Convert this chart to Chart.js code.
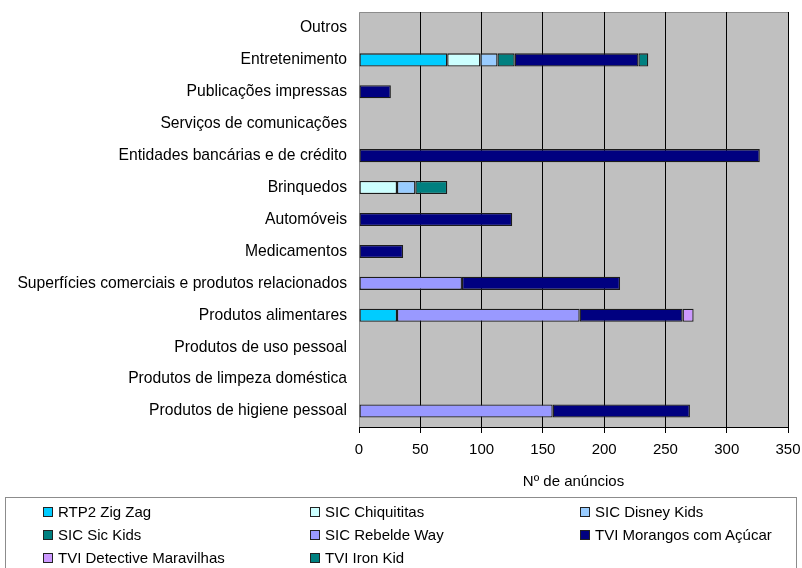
<!DOCTYPE html>
<html>
<head>
<meta charset="utf-8">
<script src="https://cdn.jsdelivr.net/npm/chart.js@4/dist/chart.umd.min.js"></script>
<style>
    html, body { margin: 0; padding: 0; background: #fff; }
    body { width: 802px; height: 568px; position: relative; overflow: hidden; font-family: "Liberation Sans", Arial, sans-serif; }
    #wrap { position: absolute; left: 0; top: 0; width: 802px; height: 498px; }
    #legend {
        position: absolute; left: 5px; top: 497px; width: 792px; height: 90px;
        border: 1px solid #8c8c8c; box-sizing: border-box;
        display: grid; grid-template-columns: 267px 270px auto; grid-auto-rows: 23px;
        padding: 2px 0 0 37px;
        font-size: 15px; line-height: 23px; color: #000;
    }
    #legend .item { display: flex; align-items: center; height: 23px; white-space: nowrap; }
    #legend .box { width: 8px; height: 8px; border: 1px solid #222; margin-right: 5px; flex: none; }
</style>
</head>
<body>
<div id="wrap"><canvas id="chart" width="802" height="498"></canvas></div>
<div id="legend"></div>
<script>
const categories = [
    "Outros",
    "Entretenimento",
    "Publicações impressas",
    "Serviços de comunicações",
    "Entidades bancárias e de crédito",
    "Brinquedos",
    "Automóveis",
    "Medicamentos",
    "Superfícies comerciais e produtos relacionados",
    "Produtos alimentares",
    "Produtos de uso pessoal",
    "Produtos de limpeza doméstica",
    "Produtos de higiene pessoal"
];

// one value per category, same order as above (null = no bar)
const rtp2ZigZag        = [null, 72, null, null, null, null, null, null, null, 31, null, null, null];
const sicChiquititas    = [null, 27, null, null, null, 31, null, null, null, null, null, null, null];
const sicDisneyKids     = [null, 14, null, null, null, 15, null, null, null, null, null, null, null];
const sicSicKids        = [null, 14, null, null, null, 26, null, null, null, null, null, null, null];
const sicRebeldeWay     = [null, null, null, null, null, null, null, null, 84, 149, null, null, 158];
const tviMorangos       = [null, 101, 26, null, 327, null, 125, 36, 129, 84, null, null, 112];
const tviDetective      = [null, null, null, null, null, null, null, null, null, 9, null, null, null];
const tviIronKid        = [null, 8, null, null, null, null, null, null, null, null, null, null, null];

const xTicks = [0, 50, 100, 150, 200, 250, 300, 350];

const series = [
    { label: "RTP2 Zig Zag", data: rtp2ZigZag, color: "#00ccff" },
    { label: "SIC Chiquititas", data: sicChiquititas, color: "#ccffff" },
    { label: "SIC Disney Kids", data: sicDisneyKids, color: "#99ccff" },
    { label: "SIC Sic Kids", data: sicSicKids, color: "#008080" },
    { label: "SIC Rebelde Way", data: sicRebeldeWay, color: "#9999ff" },
    { label: "TVI Morangos com Açúcar", data: tviMorangos, color: "#000080" },
    { label: "TVI Detective Maravilhas", data: tviDetective, color: "#cc99ff" },
    { label: "TVI Iron Kid", data: tviIronKid, color: "#008080" }
];

const FONT = "'Liberation Sans', Arial, sans-serif";

const plotBackground = {
    id: "plotBackground",
    beforeDraw(chart) {
        const { ctx, chartArea: a } = chart;
        ctx.save();
        ctx.fillStyle = "#c0c0c0";
        ctx.fillRect(a.left, a.top, a.right - a.left, a.bottom - a.top);
        ctx.strokeStyle = "#8c8c8c";
        ctx.lineWidth = 1;
        ctx.beginPath();
        ctx.moveTo(a.left + 0.5, a.bottom);
        ctx.lineTo(a.left + 0.5, a.top + 0.5);
        ctx.lineTo(a.right, a.top + 0.5);
        ctx.stroke();
        ctx.restore();
    }
};

const chart = new Chart(document.getElementById("chart"), {
    type: "bar",
    data: {
        labels: categories,
        datasets: series.map(s => ({
            label: s.label,
            data: s.data,
            backgroundColor: s.color,
            borderColor: "#1c1c1c",
            borderWidth: 1.3,
            borderSkipped: false,
            categoryPercentage: 1,
            barPercentage: 0.41
        }))
    },
    options: {
        indexAxis: "y",
        responsive: false,
        animation: false,
        devicePixelRatio: 1,
        layout: { padding: { left: 0, right: 14, top: 12, bottom: 0 } },
        plugins: {
            legend: { display: false },
            tooltip: { enabled: false }
        },
        scales: {
            x: {
                stacked: true,
                min: 0,
                max: 350,
                afterBuildTicks: scale => { scale.ticks = xTicks.map(v => ({ value: v })); },
                afterFit: scale => {
                    scale.height = 71;
                    scale.paddingLeft = 0;
                    scale.paddingRight = 0;
                },
                grid: {
                    color: ctx => ctx.tick && ctx.tick.value === 0 ? "rgba(0,0,0,0)" : "#000",
                    tickColor: "#000",
                    tickLength: 6,
                    lineWidth: 1
                },
                border: { color: "#000", width: 1 },
                ticks: { color: "#000", padding: 8, font: { family: FONT, size: 15 }, maxRotation: 0 },
                title: {
                    display: true,
                    text: "Nº de anúncios",
                    color: "#000",
                    font: { family: FONT, size: 15 },
                    padding: { top: 0, bottom: 7 }
                }
            },
            y: {
                stacked: true,
                afterFit: scale => {
                    scale.width = 359;
                    scale.paddingTop = 0;
                    scale.paddingBottom = 0;
                },
                grid: { display: false, drawTicks: false },
                border: { display: false },
                ticks: { color: "#000", padding: 12, font: { family: FONT, size: 15.7 }, autoSkip: false }
            }
        }
    },
    plugins: [plotBackground]
});

// legend: 3 columns, row by row, same order as the datasets
const legend = document.getElementById("legend");
chart.data.datasets.forEach(ds => {
    const item = document.createElement("div");
    item.className = "item";
    const box = document.createElement("span");
    box.className = "box";
    box.style.background = ds.backgroundColor;
    item.appendChild(box);
    item.appendChild(document.createTextNode(ds.label));
    legend.appendChild(item);
});
</script>
</body>
</html>
